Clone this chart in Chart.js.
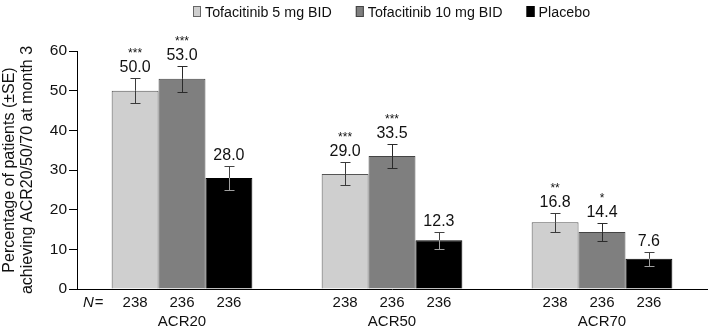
<!DOCTYPE html>
<html>
<head>
<meta charset="utf-8">
<script src="https://cdn.jsdelivr.net/npm/chart.js@4.4.1/dist/chart.umd.min.js"></script>
<style>
  html, body { margin: 0; padding: 0; background: #fff; }
  #wrap { width: 708px; height: 331px; }
</style>
</head>
<body>
<div id="wrap"><canvas id="acrChart" width="708" height="331"></canvas></div>
<script>
/***********************
 * DATA
 ***********************/
const categories = ["ACR20", "ACR50", "ACR70"];
const seriesNames = ["Tofacitinib 5 mg BID", "Tofacitinib 10 mg BID", "Placebo"];

const tofa5 = [50.0, 29.0, 16.8];
const tofa10 = [53.0, 33.5, 14.4];
const placebo = [28.0, 12.3, 7.6];

// standard errors
const tofa5SE = [3.2, 2.9, 2.4];
const tofa10SE = [3.3, 3.0, 2.3];
const placeboSE = [3.0, 2.1, 1.7];

// significance stars
const tofa5Sig = ["***", "***", "**"];
const tofa10Sig = ["***", "***", "*"];
const placeboSig = ["", "", ""];

// patients per arm
const tofa5N = [238, 238, 238];
const tofa10N = [236, 236, 236];
const placeboN = [236, 236, 236];

const yTicks = [0, 10, 20, 30, 40, 50, 60];

/***********************
 * STYLE
 ***********************/
const FONT = "'Liberation Sans', Arial, Helvetica, sans-serif";
Chart.defaults.font.family = FONT;
Chart.defaults.color = "#111";

/***********************
 * PLUGINS
 ***********************/
function vline(ctx, x, y1, y2, color) {
  ctx.strokeStyle = color;
  ctx.beginPath();
  ctx.moveTo(x, y1);
  ctx.lineTo(x, y2);
  ctx.stroke();
}

function hline(ctx, x1, x2, y, color) {
  ctx.strokeStyle = color;
  ctx.beginPath();
  ctx.moveTo(x1, y);
  ctx.lineTo(x2, y);
  ctx.stroke();
}

const errorBarsAndLabels = {
  id: "errorBarsAndLabels",
  afterDatasetsDraw(chart) {
    const ctx = chart.ctx;
    const yScale = chart.scales.y;
    const area = chart.chartArea;
    ctx.save();
    ctx.lineWidth = 1;
    chart.data.datasets.forEach((ds, di) => {
      const meta = chart.getDatasetMeta(di);
      meta.data.forEach((bar, i) => {
        const v = ds.data[i];
        const se = ds.se[i];
        const x = Math.round(bar.x) + 0.5;
        const yTop = Math.round(yScale.getPixelForValue(v + se)) + 0.5;
        const yBar = yScale.getPixelForValue(v);
        const yBot = Math.round(yScale.getPixelForValue(v - se)) + 0.5;

        vline(ctx, x, yTop, yBar, ds.errColor);
        vline(ctx, x, yBar, yBot, ds.errInnerColor);
        hline(ctx, x - 5, x + 5, yTop, ds.errColor);
        hline(ctx, x - 5, x + 5, yBot, ds.errInnerColor);

        // value + stars
        ctx.fillStyle = "#111";
        ctx.textAlign = "center";
        ctx.textBaseline = "alphabetic";
        ctx.font = "16px " + FONT;
        const valueBase = yTop - 7;
        ctx.fillText(v.toFixed(1), bar.x, valueBase);
        if (ds.sig[i]) {
          ctx.font = "12px " + FONT;
          ctx.fillText(ds.sig[i], bar.x, valueBase - 15);
        }

        // N row
        ctx.font = "15px " + FONT;
        ctx.textBaseline = "middle";
        ctx.fillText(String(ds.n[i]), bar.x, area.bottom + 14);
      });
    });

    // "N=" row label
    ctx.textAlign = "left";
    ctx.textBaseline = "middle";
    ctx.font = "italic 15px " + FONT;
    ctx.fillText("N", 83, area.bottom + 14);
    const nw = ctx.measureText("N").width;
    ctx.font = "15px " + FONT;
    ctx.fillText("=", 83 + nw + 1, area.bottom + 14);
    ctx.restore();
  }
};

// legend drawn by hand so the slightly condensed lettering can be matched
const condensedLegend = {
  id: "condensedLegend",
  afterDraw(chart) {
    const ctx = chart.ctx;
    const squeeze = 0.92;
    const boxW = 8, boxH = 11, gap = 4, itemGap = 24;
    ctx.save();
    ctx.font = "15.5px " + FONT;
    const items = chart.data.datasets.map(ds => ({
      text: ds.label,
      fill: ds.backgroundColor,
      stroke: ds.legendBorder,
      w: ctx.measureText(ds.label).width * squeeze
    }));
    const total = items.reduce((s, it) => s + boxW + gap + it.w, 0) + itemGap * (items.length - 1);
    const area = chart.chartArea;
    let x = Math.round((area.left + area.right) / 2 - total / 2);
    const base = 17;
    items.forEach(it => {
      ctx.fillStyle = it.fill;
      ctx.fillRect(x, base - boxH, boxW, boxH);
      ctx.strokeStyle = it.stroke;
      ctx.lineWidth = 1;
      ctx.strokeRect(x + 0.5, base - boxH + 0.5, boxW - 1, boxH - 1);
      const tx = x + boxW + gap;
      ctx.save();
      ctx.translate(tx, base);
      ctx.scale(squeeze, 1);
      ctx.fillStyle = "#111";
      ctx.textAlign = "left";
      ctx.textBaseline = "alphabetic";
      ctx.fillText(it.text, 0, 0);
      ctx.restore();
      x = tx + it.w + itemGap;
    });
    ctx.restore();
  }
};

/***********************
 * CHART
 ***********************/
const ctx = document.getElementById("acrChart").getContext("2d");

new Chart(ctx, {
  type: "bar",
  data: {
    labels: categories,
    datasets: [
      {
        label: seriesNames[0],
        data: tofa5,
        se: tofa5SE,
        sig: tofa5Sig,
        n: tofa5N,
        backgroundColor: "#cfcfcf",
        borderColor: "#555",
        legendBorder: "#666",
        errColor: "#3a3a3a",
        errInnerColor: "#3a3a3a"
      },
      {
        label: seriesNames[1],
        data: tofa10,
        se: tofa10SE,
        sig: tofa10Sig,
        n: tofa10N,
        backgroundColor: "#7f7f7f",
        borderColor: "#444",
        legendBorder: "#444",
        errColor: "#2a2a2a",
        errInnerColor: "#2a2a2a"
      },
      {
        label: seriesNames[2],
        data: placebo,
        se: placeboSE,
        sig: placeboSig,
        n: placeboN,
        backgroundColor: "#000",
        borderColor: "#000",
        legendBorder: "#000",
        errColor: "#444",
        errInnerColor: "#a0a0a0"
      }
    ]
  },
  options: {
    responsive: false,
    animation: false,
    devicePixelRatio: 1,
    layout: { padding: { top: 51, right: 1, left: 0, bottom: 0 } },
    datasets: {
      bar: {
        borderWidth: 1,
        categoryPercentage: 0.67,
        barPercentage: 1.0
      }
    },
    plugins: {
      legend: { display: false },
      tooltip: { enabled: false }
    },
    scales: {
      x: {
        afterFit(scale) { scale.height = 42; },
        grid: { display: false, drawTicks: false },
        border: { display: true, color: "#000", width: 1 },
        ticks: {
          padding: 24,
          color: "#111",
          font: { size: 15 }
        }
      },
      y: {
        min: 0,
        max: 60,
        afterFit(scale) { scale.width = 77; },
        afterBuildTicks(scale) { scale.ticks = yTicks.map(v => ({ value: v })); },
        grid: {
          display: true,
          drawOnChartArea: false,
          drawTicks: true,
          tickLength: 8,
          color: "#000"
        },
        border: { display: true, color: "#000", width: 1 },
        ticks: {
          padding: 2,
          color: "#111",
          font: { size: 15.5 }
        },
        title: {
          display: true,
          text: ["Percentage of patients (\u00b1SE)", "achieving ACR20/50/70 at month 3"],
          color: "#111",
          font: { size: 16, lineHeight: 1.15 },
          padding: { top: 0, bottom: 0 }
        }
      }
    }
  },
  plugins: [errorBarsAndLabels, condensedLegend]
});
</script>
</body>
</html>
